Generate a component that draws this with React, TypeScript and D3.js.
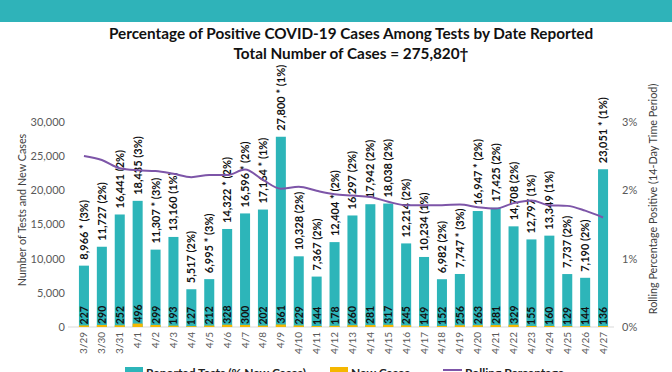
import React from "react";
import * as d3 from "d3";

const dates = ["3/29","3/30","3/31","4/1","4/2","4/3","4/4","4/5","4/6","4/7","4/8","4/9","4/10","4/11","4/12","4/13","4/14","4/15","4/16","4/17","4/18","4/19","4/20","4/21","4/22","4/23","4/24","4/25","4/26","4/27"];
const tests = [8966,11727,16441,18435,11307,13160,5517,6995,14322,16596,17164,27800,10328,7367,12404,16297,17942,18038,12214,10234,6982,7747,16947,17425,14708,12797,13349,7737,7190,23051];
const starred = [1,0,0,0,1,0,0,1,1,1,1,1,0,0,1,0,0,0,0,0,0,1,1,0,0,0,0,0,0,1];
const pctLabels = [3,2,2,3,3,1,2,3,2,2,1,1,2,2,2,2,2,2,2,1,2,3,2,2,2,1,1,2,2,1];
const newCases = [227,290,252,496,299,193,127,212,328,300,202,361,229,144,178,260,281,317,245,149,152,256,263,281,329,155,160,129,144,136];
const rolling = [2.50,2.44,2.32,2.29,2.28,2.24,2.19,2.22,2.22,2.30,2.15,2.02,2.05,1.99,1.94,1.92,1.90,1.83,1.78,1.78,1.78,1.79,1.75,1.73,1.81,1.85,1.78,1.77,1.70,1.60];
const leftTicks = [0,5000,10000,15000,20000,25000,30000];
const rightTicks = [0,1,2,3];

const TEAL = "#2db5b9";
const ORANGE = "#f5b700";
const PURPLE = "#7d55a8";
const FONT = "Lato, 'Open Sans', sans-serif";

export default function App() {
  const x = d3.scaleBand<string>().domain(dates).range([75, 612]).paddingInner(0.44).paddingOuter(0.22);
  const y = d3.scaleLinear().domain([0, 30000]).range([327, 121.7]);
  const yr = d3.scaleLinear().domain([0, 3]).range([327, 121.7]);
  const fmt = d3.format(",");
  const bw = x.bandwidth();
  const cx = (d: string) => (x(d) as number) + bw / 2;
  const line = d3.line<number>().x((_, i) => cx(dates[i])).y((v) => yr(v)).curve(d3.curveMonotoneX);

  return (
    <svg width={672} height={372} style={{ position: "absolute", left: 0, top: 0, background: "#fff" }} fontFamily={FONT}>
      <rect x={0} y={0} width={672} height={22} fill="#2fb3b9" />
      <text x={351} y={39} textAnchor="middle" fontSize={15.3} fontWeight="bold" fill="#111">Percentage of Positive COVID-19 Cases Among Tests by Date Reported</text>
      <text x={351} y={59} textAnchor="middle" fontSize={15.3} fontWeight="bold" fill="#111">Total Number of Cases = 275,820†</text>

      {leftTicks.map((t) => (
        <text key={"l" + t} x={65} y={y(t) + 4} textAnchor="end" fontSize={11} fill="#595959">{fmt(t)}</text>
      ))}
      {rightTicks.map((t) => (
        <text key={"r" + t} x={622} y={yr(t) + 4} textAnchor="start" fontSize={11} fill="#595959">{t + "%"}</text>
      ))}
      <text transform={`translate(26,210) rotate(-90)`} textAnchor="middle" fontSize={10.8} fill="#404040">Number of Tests and New Cases</text>
      <text transform={`translate(657,199) rotate(-90)`} textAnchor="middle" fontSize={10.8} fill="#404040">Rolling Percentage Positive (14-Day Time Period)</text>

      <line x1={68} x2={614} y1={y(0)} y2={y(0)} stroke="#d9d9d9" strokeWidth={1} />

      {dates.map((d, i) => (
        <rect key={"b" + d} x={x(d)} y={y(tests[i])} width={bw} height={y(0) - y(tests[i])} fill={TEAL} />
      ))}
      {dates.map((d, i) => (
        <rect key={"o" + d} x={x(d)} y={y(newCases[i])} width={bw} height={y(0) - y(newCases[i])} fill={ORANGE} />
      ))}
      {dates.map((d, i) => (
        <text key={"t" + d} transform={`translate(${cx(d) + 4},${y(tests[i]) - 6}) rotate(-90)`} fontSize={11} fontWeight="bold" fill="#111">
          {`${fmt(tests[i])}${starred[i] ? " *" : ""} (${pctLabels[i]}%)`}
        </text>
      ))}
      {dates.map((d, i) => (
        <text key={"n" + d} transform={`translate(${cx(d) + 4},${y(newCases[i]) - 1}) rotate(-90)`} fontSize={10.5} fontWeight="bold" fill="#111">
          {newCases[i]}
        </text>
      ))}
      {dates.map((d) => (
        <text key={"x" + d} transform={`translate(${cx(d) + 3.5},332) rotate(-90)`} textAnchor="end" fontSize={10} fill="#595959">{d}</text>
      ))}

      <path d={line(rolling) || ""} fill="none" stroke={PURPLE} strokeWidth={2} />

      <rect x={125} y={367} width={18} height={8} fill={TEAL} />
      <text x={146} y={376.5} fontSize={12} fontWeight="bold" fill="#222">Reported Tests (% New Cases)</text>
      <rect x={330} y={367} width={18} height={8} fill={ORANGE} />
      <text x={351} y={376.5} fontSize={12} fontWeight="bold" fill="#222">New Cases</text>
      <line x1={443} x2={462} y1={370} y2={370} stroke={PURPLE} strokeWidth={2} />
      <text x={465} y={376.5} fontSize={12} fontWeight="bold" fill="#222">Rolling Percentage</text>
    </svg>
  );
}
